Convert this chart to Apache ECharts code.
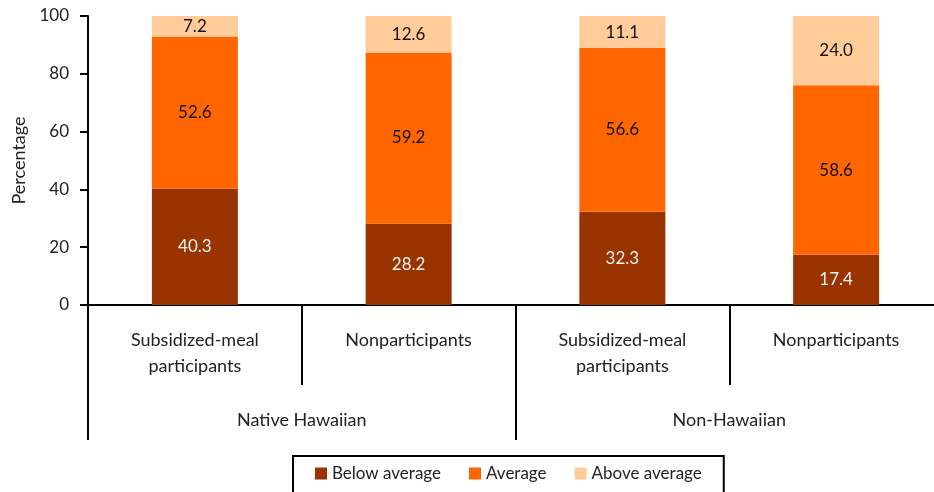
<!DOCTYPE html>
<html><head><meta charset="utf-8">
<script src="https://cdn.jsdelivr.net/npm/echarts@6/dist/echarts.min.js"></script>
<style>html,body{margin:0;padding:0;background:#fff}#c{width:934px;height:492px}</style>
</head><body><div id="c"></div>
<script>
const categories = ['Subsidized-meal\nparticipants', 'Nonparticipants', 'Subsidized-meal\nparticipants', 'Nonparticipants'];
const groups = ['Native Hawaiian', 'Non-Hawaiian'];
const belowAverage = [40.3, 28.2, 32.3, 17.4];
const average = [52.6, 59.2, 56.6, 58.6];
const aboveAverage = [7.2, 12.6, 11.1, 24.0];
const yTicks = [0, 20, 40, 60, 80, 100];

const FONT = 'Lato';
const chart = echarts.init(document.getElementById('c'));
const lbl = (color) => ({show: true, position: 'inside', color: color, fontFamily: FONT, fontSize: 17, formatter: p => p.value.toFixed(1)});
chart.setOption({
  animation: false,
  textStyle: {fontFamily: FONT},
  grid: {left: 88, width: 855, top: 16, height: 289, containLabel: false, outerBoundsMode: 'none'},
  legend: {
    top: 456, left: 293, itemWidth: 12, itemHeight: 12, itemGap: 28,
    borderColor: '#000', borderWidth: 2, padding: [9, 22, 14, 22],
    textStyle: {fontFamily: FONT, fontSize: 17, color: '#222'},
    data: ['Below average', 'Average', 'Above average'],
    icon: 'rect'
  },
  xAxis: [{
    type: 'category', data: categories, position: 'bottom',
    axisLine: {lineStyle: {color: '#000', width: 2}},
    axisTick: {show: true, length: 80, lineStyle: {color: '#000', width: 2}},
    axisLabel: {color: '#222', fontSize: 18, fontFamily: FONT, margin: 22, lineHeight: 26, interval: 0}
  }, {
    type: 'category', data: groups, position: 'bottom', gridIndex: 0,
    axisLine: {show: false},
    axisTick: {show: true, length: 135, lineStyle: {color: '#000', width: 2}},
    axisLabel: {color: '#222', fontSize: 18, fontFamily: FONT, margin: 106, interval: 0}
  }],
  yAxis: {
    type: 'value', min: yTicks[0], max: yTicks[yTicks.length - 1], interval: 20,
    name: 'Percentage', nameLocation: 'middle', nameGap: 59, nameRotate: 90,
    nameTextStyle: {fontFamily: FONT, fontSize: 18, color: '#222'},
    axisLine: {show: true, lineStyle: {color: '#000', width: 2}},
    axisTick: {show: true, length: 8, lineStyle: {color: '#000', width: 2}},
    splitLine: {show: false},
    axisLabel: {color: '#222', fontSize: 17, fontFamily: FONT, margin: 19}
  },
  series: [
    {name: 'Below average', type: 'bar', stack: 's', data: belowAverage, barWidth: 86, itemStyle: {color: '#993300'}, label: lbl('#f2f2f2')},
    {name: 'Average', type: 'bar', stack: 's', data: average, itemStyle: {color: '#FF6600'}, label: lbl('#111')},
    {name: 'Above average', type: 'bar', stack: 's', data: aboveAverage, itemStyle: {color: '#FFCC99'}, label: lbl('#111')}
  ]
});
</script></body></html>
